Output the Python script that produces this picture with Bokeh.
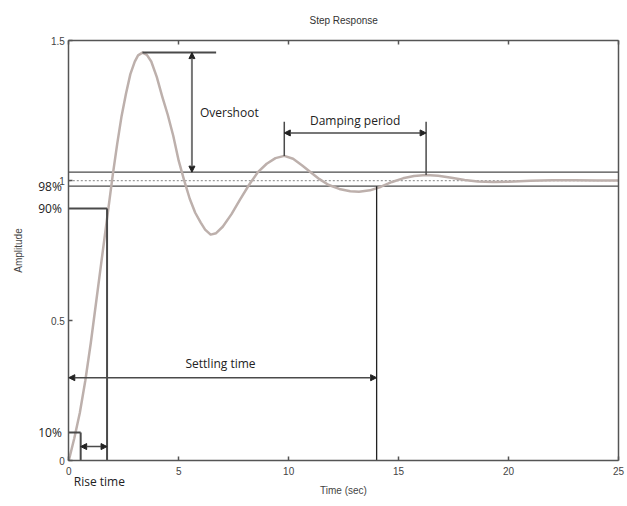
from bokeh.plotting import figure
from bokeh.models import Range1d, LinearAxis, FixedTicker, Arrow, NormalHead, Label
from bokeh.embed import file_html
from bokeh.resources import INLINE

# Step response of the system: time (s) and amplitude
time_s = [0, 0.25, 0.5, 0.75, 1.0, 1.25, 1.5, 1.75, 2.0, 2.2, 2.4, 2.6, 2.8, 3.0, 3.15,
          3.35, 3.55, 3.75, 4.0, 4.25, 4.5, 4.75, 5.0, 5.25, 5.5, 5.75, 6.0, 6.2, 6.45,
          6.7, 7.0, 7.4, 7.8, 8.2, 8.6, 9.0, 9.4, 9.8, 10.2, 10.6, 11.0, 11.4, 11.8,
          12.3, 12.8, 13.2, 13.7, 14.2, 14.7, 15.2, 15.7, 16.25, 16.8, 17.4, 18.0,
          18.6, 19.3, 20.0, 21.0, 22.0, 23.0, 24.0, 25.0]
amplitude = [0, 0.08, 0.17, 0.285, 0.42, 0.57, 0.72, 0.87, 1.02, 1.13, 1.23, 1.31, 1.38, 1.425, 1.447,
             1.457, 1.449, 1.425, 1.37, 1.30, 1.235, 1.16, 1.07, 1.0, 0.935, 0.885, 0.85, 0.825, 0.807,
             0.812, 0.835, 0.88, 0.934, 0.985, 1.03, 1.06, 1.08, 1.088, 1.078, 1.055, 1.03, 1.005, 0.985,
             0.97, 0.962, 0.96, 0.965, 0.978, 0.995, 1.008, 1.016, 1.02, 1.017, 1.01, 1.002,
             0.997, 0.995, 0.996, 0.999, 1.001, 1.001, 1.0, 1.0]

# Axis extents and ticks
t_min, t_max = 0, 25
amp_min, amp_max = 0, 1.5
x_ticks = [0, 5, 10, 15, 20, 25]
y_ticks = [0, 0.5, 1, 1.5]
y_tick_labels = ["0", "0.5", "1", "1.5"]

# Characteristic points of the response
peak_t, peak_amp = 3.35, 1.457
overshoot_bar_end = 6.7
overshoot_arrow_t = 5.6
final_value = 1.0
band_upper, band_lower = 1.03, 0.98
rise_lo, rise_hi = 0.1, 0.9
t_rise_lo, t_rise_hi = 0.54, 1.74
rise_arrow_amp = 0.05
t_settle = 14.0
settle_arrow_amp = 0.296
damp_t1, damp_amp1 = 9.8, 1.088
damp_t2, damp_amp2 = 16.25, 1.02
damp_top = 1.21
damp_arrow_amp = 1.17
overshoot_text_amp = 1.243
settle_text_t = 6.9

AXIS_COLOR = "#555555"
MARK_COLOR = "#4a4a4a"
CURVE_COLOR = "#bdb0ac"
AXIS_FONT = "Liberation Sans"
NOTE_FONT = "Open Sans"

# The data frame covers the whole canvas; the axes are pinned to the box edges
# so that the margin texts can sit inside the drawable area.
p = figure(width=627, height=506,
           x_range=Range1d(-3.106, 25.409), y_range=Range1d(-0.164, 1.643),
           x_axis_type=None, y_axis_type=None, title=None, min_border=0,
           output_backend="svg", toolbar_location=None,
           background_fill_color="white", border_fill_color="white")
p.outline_line_color = None
p.xgrid.grid_line_color = None
p.ygrid.grid_line_color = None


def style_axis(ax, show_labels=True, show_ticks=True):
    ax.axis_line_color = AXIS_COLOR
    ax.axis_line_width = 1.5
    ax.major_tick_line_color = AXIS_COLOR if show_ticks else None
    ax.major_tick_line_width = 1.5
    ax.major_tick_in = 4
    ax.major_tick_out = 0
    ax.minor_tick_line_color = None
    ax.major_label_text_font = AXIS_FONT
    ax.major_label_text_font_size = "10px"
    ax.major_label_text_color = "#444444" if show_labels else None
    ax.axis_label_text_font = AXIS_FONT
    ax.axis_label_text_font_size = "10px"
    ax.axis_label_text_font_style = "normal"
    ax.axis_label_text_color = "#444444"


bottom = LinearAxis(fixed_location=amp_min, bounds=(t_min, t_max),
                    ticker=FixedTicker(ticks=x_ticks), axis_label="Time (sec)")
style_axis(bottom)
bottom.major_label_standoff = 6
bottom.axis_label_standoff = 7
p.add_layout(bottom, "below")

left = LinearAxis(fixed_location=t_min, bounds=(amp_min, amp_max),
                  ticker=FixedTicker(ticks=y_ticks), axis_label="Amplitude")
style_axis(left)
left.major_label_overrides = dict(zip(y_ticks, y_tick_labels))
left.major_label_standoff = 4
left.axis_label_standoff = 24
p.add_layout(left, "left")

top = LinearAxis(fixed_location=amp_max, bounds=(t_min, t_max),
                 ticker=FixedTicker(ticks=x_ticks))
style_axis(top, show_labels=False)
p.add_layout(top, "above")

right = LinearAxis(fixed_location=t_max, bounds=(amp_min, amp_max),
                   ticker=FixedTicker(ticks=y_ticks))
style_axis(right, show_labels=False, show_ticks=False)
p.add_layout(right, "right")

# Tolerance band and final value
p.segment(x0=[t_min, t_min], y0=[band_upper, band_lower], x1=[t_max, t_max],
          y1=[band_upper, band_lower], line_color=MARK_COLOR, line_width=1.3)
p.segment(x0=[t_min], y0=[final_value], x1=[t_max], y1=[final_value],
          line_color="#9a9a9a", line_width=1.2, line_dash="2 2")

# Response curve
p.line(time_s, amplitude, line_color=CURVE_COLOR, line_width=2.5, line_join="round")

HEAD = dict(size=6, fill_color="#222222", line_color="#222222")

# Overshoot marker
p.segment(x0=[peak_t], y0=[peak_amp], x1=[overshoot_bar_end], y1=[peak_amp],
          line_color=MARK_COLOR, line_width=2)
p.add_layout(Arrow(x_start=overshoot_arrow_t, y_start=band_upper,
                   x_end=overshoot_arrow_t, y_end=peak_amp,
                   start=NormalHead(**HEAD), end=NormalHead(**HEAD),
                   line_color="#777777", line_width=2))

# Rise time markers
p.segment(x0=[t_min, t_rise_lo, t_min, t_rise_hi], y0=[rise_lo, amp_min, rise_hi, amp_min],
          x1=[t_rise_lo, t_rise_lo, t_rise_hi, t_rise_hi], y1=[rise_lo, rise_lo, rise_hi, rise_hi],
          line_color=MARK_COLOR, line_width=2)
p.add_layout(Arrow(x_start=t_rise_lo, y_start=rise_arrow_amp, x_end=t_rise_hi, y_end=rise_arrow_amp,
                   start=NormalHead(**HEAD), end=NormalHead(**HEAD),
                   line_color=MARK_COLOR, line_width=1.5))

# Settling time markers
p.segment(x0=[t_settle], y0=[amp_min], x1=[t_settle], y1=[band_lower],
          line_color="#222222", line_width=1.3)
p.add_layout(Arrow(x_start=t_min, y_start=settle_arrow_amp, x_end=t_settle, y_end=settle_arrow_amp,
                   start=NormalHead(**HEAD), end=NormalHead(**HEAD),
                   line_color=MARK_COLOR, line_width=1.5))

# Damping period markers
p.segment(x0=[damp_t1, damp_t2], y0=[damp_amp1, damp_amp2], x1=[damp_t1, damp_t2],
          y1=[damp_top, damp_top], line_color=MARK_COLOR, line_width=1.5)
p.add_layout(Arrow(x_start=damp_t1, y_start=damp_arrow_amp, x_end=damp_t2, y_end=damp_arrow_amp,
                   start=NormalHead(**HEAD), end=NormalHead(**HEAD),
                   line_color=MARK_COLOR, line_width=1.5))


def note(x, y, text, align="left", x_offset=0, y_offset=0, font=NOTE_FONT, size="12px",
         color="#222222"):
    p.add_layout(Label(x=x, y=y, text=text, text_font=font, text_font_size=size,
                       text_color=color, text_align=align, text_baseline="middle",
                       x_offset=x_offset, y_offset=y_offset))


note((t_min + t_max) / 2, amp_max, "Step Response", align="center", y_offset=20,
     font=AXIS_FONT, size="10px", color="#333333")
note(overshoot_arrow_t, overshoot_text_amp, "Overshoot", x_offset=8)
note((damp_t1 + damp_t2) / 2, damp_arrow_amp, "Damping period", align="center", y_offset=12)
note(settle_text_t, settle_arrow_amp, "Settling time", align="center", y_offset=14)
note(t_min, amp_min, "Rise time", x_offset=5, y_offset=-21)
note(t_min, band_lower, "98%", align="right", x_offset=-7)
note(t_min, rise_hi, "90%", align="right", x_offset=-7)
note(t_min, rise_lo, "10%", align="right", x_offset=-7)

open("out.html", "w").write(file_html(p, INLINE))
